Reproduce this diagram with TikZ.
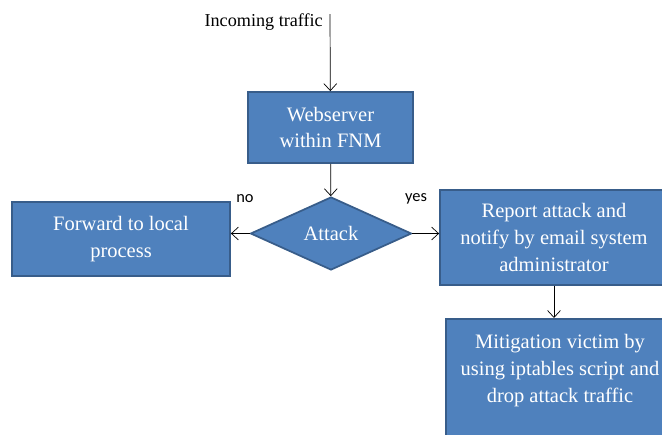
\documentclass[tikz,border=0pt]{standalone}
\usepackage{fontspec}
\setmainfont{Liberation Serif}
\newfontfamily\labelfont{Carlito}
\usetikzlibrary{shapes.geometric,arrows.meta}
\definecolor{boxfill}{HTML}{4F81BD}
\definecolor{boxline}{HTML}{385D8A}
\begin{document}
\begin{tikzpicture}[x=0.03cm,y=-0.03cm]
\tikzstyle{box_style} = [rectangle, draw=boxline, line width=1.5pt, fill=boxfill, text=white, align=center, font=\fontsize{17.5}{23}\selectfont, inner sep=3pt]
\tikzstyle{edge_style} = [-{Straight Barb[length=6pt,width=11pt]}, black, line width=0.6pt]
\tikzstyle{label_style} = [font=\labelfont\fontsize{14}{16}\selectfont, inner sep=0pt]
    \path[use as bounding box, clip] (0,0) rectangle (662,434);

    \node[font=\fontsize{15.5}{18}\selectfont, inner sep=0pt, anchor=base east] (traffic) at (323,26) {Incoming traffic};
    \coordinate (start) at (330,14);

    \node[box_style, minimum width=4.95cm, minimum height=2.13cm] (web) at (330.5,127.5) {Webserver\\within FNM};
    \node[box_style, diamond, minimum width=4.83cm, minimum height=2.19cm, inner sep=0pt] (attack) at (331,233.5) {Attack};
    \node[box_style, minimum width=6.54cm, minimum height=2.22cm] (forward) at (121,239) {Forward to local\\process};
    \node[box_style, minimum width=6.84cm, minimum height=2.85cm] (report) at (554,237.5) {Report attack and\\notify by email system\\administrator};
    \node[box_style, minimum width=6.84cm, anchor=north, inner ysep=13pt] (mitigation) at (560,318) {Mitigation victim by\\using iptables script and\\drop attack traffic\\[2cm]\mbox{}};

    \draw[edge_style] (start) -- (web);
    \draw[edge_style] (web) -- (attack);
    \draw[edge_style] (attack.west) -- (attack.west -| forward.east);
    \draw[edge_style] (attack.east) -- (attack.east -| report.west);
    \draw[edge_style] (report.south) -- (report.south |- mitigation.north);

    \node[label_style] (no) at (245,199) {no};
    \node[label_style] (yes) at (416,199) {yes};
\end{tikzpicture}
\end{document}
